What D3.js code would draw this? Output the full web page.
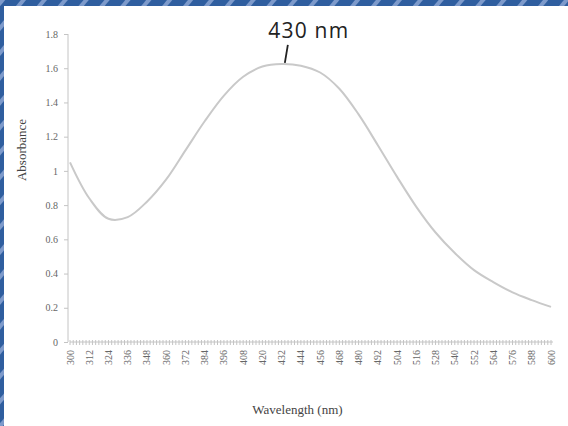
<!DOCTYPE html>
<html>
<head>
<meta charset="utf-8">
<script src="https://d3js.org/d3.v7.min.js"></script>
<style>
  body { margin: 0; background: #fff; }
  svg { display: block; }
  .axis path, .axis line { stroke: #c4c4c4; }
  .axis text { fill: #666; font-family: "Liberation Serif", serif; font-size: 10px; }
</style>
</head>
<body>
<div id="chart"></div>
<script>
// wavelength (nm) every 12 nm, absorbance
var wavelengths = [300, 312, 324, 336, 348, 360, 372, 384, 396, 408, 420, 432, 444,
                   456, 468, 480, 492, 504, 516, 528, 540, 552, 564, 576, 588, 600];
var absorbance = [1.05, 0.84, 0.72, 0.73, 0.82, 0.95, 1.12, 1.29, 1.44, 1.55, 1.61, 1.625, 1.615,
                  1.575, 1.48, 1.33, 1.15, 0.965, 0.79, 0.64, 0.52, 0.42, 0.35, 0.29, 0.245, 0.205];
var yTicks = [0, 0.2, 0.4, 0.6, 0.8, 1, 1.2, 1.4, 1.6, 1.8];
var peakLabel = "430 nm";
var peakAt = 434;

var W = 568, H = 426;
var margin = {top: 34, right: 15, bottom: 84, left: 70},
    width = W - margin.left - margin.right,
    height = H - margin.top - margin.bottom;

var data = wavelengths.map(function(w, i) { return {w: w, a: absorbance[i]}; });

var x = d3.scaleLinear().domain([300, 600]).range([0, width - 2]);
var y = d3.scaleLinear().domain([0, 1.8]).range([height, 0]);

var svg = d3.select("#chart").append("svg")
    .attr("width", W)
    .attr("height", H);

// striped blue frame on top and left
var defs = svg.append("defs");
var pat = defs.append("pattern")
    .attr("id", "stripes")
    .attr("patternUnits", "userSpaceOnUse")
    .attr("width", 16).attr("height", 16)
    .attr("patternTransform", "rotate(40)");
pat.append("rect").attr("width", 16).attr("height", 16).attr("fill", "#2f5e9f");
pat.append("rect").attr("width", 4).attr("height", 16).attr("fill", "#7d9acb");

svg.append("rect").attr("x", 0).attr("y", 0).attr("width", W).attr("height", 6).attr("fill", "url(#stripes)");
svg.append("rect").attr("x", 0).attr("y", 0).attr("width", 4).attr("height", H).attr("fill", "url(#stripes)");

var g = svg.append("g")
    .attr("transform", "translate(" + margin.left + "," + margin.top + ")");

// y axis
g.append("g")
    .attr("class", "y axis")
    .attr("transform", "translate(-2,0)")
    .call(d3.axisLeft(y).tickValues(yTicks).tickSize(4).tickPadding(6)
      .tickFormat(function(d) { return d3.format("")(+d.toFixed(1)); }))
    .call(function(s) { s.select(".domain").attr("d", "M0,0V" + height); });

// x axis: minor ticks every 2 nm, labels every 12 nm
var minor = d3.range(300, 601, 2);
var xa = g.append("g")
    .attr("class", "x axis")
    .attr("transform", "translate(0," + height + ")");
xa.append("line").attr("x1", 0).attr("x2", width).attr("y1", 0).attr("y2", 0).attr("stroke", "#c4c4c4");
xa.selectAll(".minor")
    .data(minor)
  .enter().append("line")
    .attr("x1", function(d) { return x(d); })
    .attr("x2", function(d) { return x(d); })
    .attr("y1", -2).attr("y2", 3)
    .attr("stroke", "#c4c4c4");
xa.selectAll(".lbl")
    .data(wavelengths)
  .enter().append("text")
    .attr("transform", function(d) { return "translate(" + (x(d) + 3.5) + ",8) rotate(-90)"; })
    .style("text-anchor", "end")
    .text(function(d) { return d; });

// axis titles
svg.append("text")
    .attr("transform", "translate(26," + 150 + ") rotate(-90)")
    .style("text-anchor", "middle")
    .style("font-family", "Liberation Serif, serif")
    .style("font-size", "13px")
    .style("fill", "#444")
    .text("Absorbance");

svg.append("text")
    .attr("x", margin.left + width / 2 - 14)
    .attr("y", 414)
    .style("text-anchor", "middle")
    .style("font-family", "Liberation Serif, serif")
    .style("font-size", "13px")
    .style("fill", "#444")
    .text("Wavelength (nm)");

// the curve
var line = d3.line()
    .x(function(d) { return x(d.w); })
    .y(function(d) { return y(d.a); })
    .curve(d3.curveCatmullRom);

g.append("path")
    .datum(data)
    .attr("fill", "none")
    .attr("stroke", "#c9c9c9")
    .attr("stroke-width", 2)
    .attr("d", line);

// peak annotation
var px = x(peakAt), py = y(1.625);
g.append("line")
    .attr("x1", px + 3).attr("y1", py - 19)
    .attr("x2", px).attr("y2", py - 1)
    .attr("stroke", "#222")
    .attr("stroke-width", 1.8);
g.append("text")
    .attr("x", px + 24)
    .attr("y", py - 26)
    .style("text-anchor", "middle")
    .style("font-family", "Open Sans, sans-serif")
    .style("font-size", "21px")
    .style("letter-spacing", "1.2px")
    .style("fill", "#222")
    .text(peakLabel);
</script>
</body>
</html>
